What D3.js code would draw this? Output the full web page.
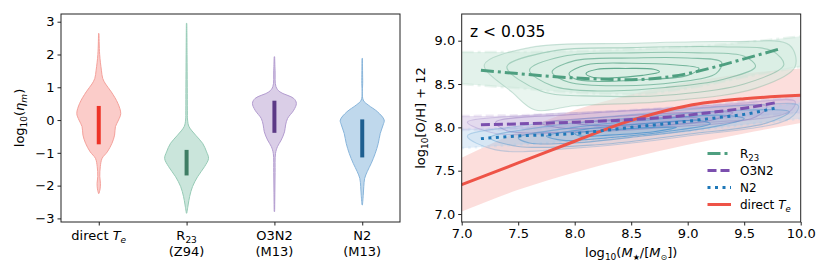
<!DOCTYPE html>
<html>
<head>
<meta charset="utf-8">
<script src="https://cdn.jsdelivr.net/npm/d3@7"></script>
<style>
  body { margin: 0; background: #fff; }
  text { font-family: "DejaVu Sans", sans-serif; fill: #000; }
</style>
</head>
<body>
<svg id="fig" width="830" height="277"></svg>
<script>
// ---------- left panel: violins of log10(eta_m) ----------
var violinNames = ["direct", "R23", "O3N2", "N2"];
// sampled profile of each violin: value and relative half width (1 = widest)
var teVals   = [2.64, 2.0, 1.52, 1.27, 1.1, 0.86, 0.51, 0.2, 0, -0.2, -0.46, -0.71, -0.97, -1.17, -1.42, -1.72, -1.93, -2.1, -2.24];
var teDens   = [0.01, 0.04, 0.12, 0.18, 0.31, 0.57, 0.87, 1, 0.9, 0.76, 0.72, 0.6, 0.39, 0.15, 0.07, 0.045, 0.076, 0.06, 0.01];
var r23Vals  = [2.95, 2.0, 1.0, 0.3, 0, -0.2, -0.46, -0.71, -0.97, -1.17, -1.42, -1.73, -2.03, -2.33, -2.59, -2.84];
var r23Dens  = [0.01, 0.02, 0.03, 0.035, 0.045, 0.11, 0.41, 0.73, 0.91, 1, 0.82, 0.5, 0.27, 0.14, 0.07, 0.01];
var o3n2Vals = [1.93, 1.5, 1.02, 0.86, 0.66, 0.51, 0.3, 0.05, -0.15, -0.36, -0.61, -0.81, -1.02, -1.6, -2.2, -2.79];
var o3n2Dens = [0.01, 0.03, 0.07, 0.25, 0.88, 1, 0.88, 0.6, 0.51, 0.46, 0.31, 0.14, 0.05, 0.03, 0.02, 0.01];
var n2Vals   = [1.88, 1.2, 0.61, 0.46, 0.25, 0, -0.15, -0.41, -0.71, -1.02, -1.32, -1.57, -1.78, -2.03, -2.3, -2.59];
var n2Dens   = [0.01, 0.02, 0.045, 0.27, 0.7, 1, 0.95, 0.82, 0.73, 0.59, 0.41, 0.23, 0.11, 0.07, 0.045, 0.01];
// inter-quartile bars [q25, q75]
var iqr = [[-0.74, 0.43], [-1.69, -0.91], [-0.39, 0.59], [-1.14, 0.02]];
var etaTicks = [-3, -2, -1, 0, 1, 2, 3];

// ---------- right panel: mass-metallicity ----------
var massTicks = [7.0, 7.5, 8.0, 8.5, 9.0, 9.5, 10.0];
var ohTicks = [7.0, 7.5, 8.0, 8.5, 9.0];

// fitted relations
var fitMass = [7.17, 7.5, 8.0, 8.5, 9.0, 9.25, 9.5, 9.8];
var fitR23  = [8.66, 8.62, 8.57, 8.55, 8.62, 8.7, 8.79, 8.9];
var fitO3N2 = [8.03, 8.04, 8.06, 8.09, 8.14, 8.18, 8.22, 8.29];
var fitN2   = [7.87, 7.9, 7.93, 8.0, 8.07, 8.11, 8.15, 8.23];
var teMass  = [7.0, 7.5, 8.0, 8.5, 9.0, 9.5, 10.0];
var teFit   = [7.34, 7.59, 7.84, 8.08, 8.25, 8.33, 8.37];

// percentile bands
var bandMass = [7.0, 7.5, 8.0, 8.5, 9.0, 9.5, 10.0];
var teLo   = [7.03, 7.28, 7.48, 7.65, 7.8, 7.93, 8.05];
var teHi   = [7.65, 7.95, 8.2, 8.38, 8.52, 8.62, 8.68];
var r23Lo  = [8.5, 8.45, 8.4, 8.38, 8.45, 8.58, 8.7];
var r23Hi  = [8.87, 8.87, 8.88, 8.9, 8.93, 8.98, 9.05];
var o3n2Lo = [7.97, 7.98, 8.0, 8.03, 8.07, 8.12, 8.17];
var o3n2Hi = [8.13, 8.14, 8.16, 8.2, 8.24, 8.3, 8.36];
var n2Lo   = [7.76, 7.8, 7.84, 7.9, 7.96, 8.03, 8.1];
var n2Hi   = [7.98, 8.0, 8.04, 8.09, 8.14, 8.21, 8.28];

// density contours (outer to inner), [mass, O/H]
var r23Contours = [
  [[7.2,8.72],[7.6,8.92],[8.5,8.97],[9.4,8.99],[9.9,8.95],[9.95,8.7],[9.6,8.45],[8.8,8.3],[8.0,8.25],[7.65,8.2],[7.45,8.4]],
  [[7.4,8.7],[7.8,8.88],[8.5,8.92],[9.3,8.93],[9.75,8.88],[9.85,8.72],[9.5,8.5],[8.9,8.38],[8.2,8.36],[7.7,8.42]],
  [[7.6,8.66],[7.9,8.82],[8.5,8.86],[9.1,8.86],[9.5,8.82],[9.6,8.7],[9.3,8.55],[8.8,8.46],[8.2,8.42],[7.8,8.48]],
  [[7.8,8.64],[8.0,8.77],[8.5,8.8],[9.0,8.8],[9.3,8.75],[9.25,8.62],[8.9,8.52],[8.4,8.48],[7.95,8.52]],
  [[7.95,8.62],[8.1,8.72],[8.5,8.74],[8.9,8.72],[9.1,8.68],[9.0,8.6],[8.6,8.55],[8.2,8.53],[8.0,8.56]],
  [[8.1,8.62],[8.2,8.67],[8.45,8.68],[8.7,8.67],[8.75,8.64],[8.6,8.6],[8.3,8.57],[8.15,8.58]]
];
var o3n2Contours = [
  [[7.05,8.06],[7.6,8.14],[8.5,8.2],[9.4,8.27],[9.95,8.3],[9.9,8.18],[9.0,8.04],[8.0,7.95],[7.3,7.93]],
  [[7.3,8.06],[8.0,8.15],[9.0,8.22],[9.7,8.24],[9.6,8.12],[8.8,8.0],[7.8,7.94],[7.4,7.96]],
  [[7.7,8.05],[8.3,8.12],[9.0,8.17],[9.4,8.17],[9.2,8.08],[8.5,8.01],[7.9,7.99]],
  [[8.0,8.05],[8.5,8.09],[9.0,8.12],[9.1,8.1],[8.7,8.05],[8.2,8.02]]
];
var n2Contours = [
  [[7.05,7.9],[7.6,8.03],[8.6,8.16],[9.6,8.26],[9.98,8.25],[9.9,8.1],[9.0,7.9],[8.0,7.76],[7.3,7.74]],
  [[7.25,7.88],[7.8,8.02],[8.6,8.12],[9.5,8.2],[9.9,8.18],[9.7,8.05],[9.0,7.92],[8.2,7.8],[7.5,7.78]],
  [[7.5,7.88],[8.0,8.0],[8.6,8.08],[9.3,8.14],[9.5,8.1],[9.2,8.0],[8.6,7.9],[8.0,7.82],[7.6,7.82]],
  [[7.75,7.9],[8.1,7.98],[8.6,8.04],[9.1,8.08],[9.2,8.04],[8.8,7.95],[8.3,7.88],[7.9,7.85]],
  [[8.0,7.93],[8.3,7.97],[8.7,8.0],[8.9,8.0],[8.7,7.95],[8.3,7.91],[8.05,7.9]]
];

var svg = d3.select("#fig");

var violinFill = ["#f7a29c", "#9fd0bd", "#bba5d3", "#8bb8dd"];
var violinEdge = ["#f4a19b", "#96cbb6", "#b39cd0", "#88b5db"];
var barColor = ["#ee3226", "#3f7d64", "#5c3a86", "#1e5f90"];

// ===== left panel =====
var L = {x0: 61, x1: 400, y0: 14, y1: 222};
var xV = d3.scaleLinear().domain([-0.43, 3.43]).range([L.x0, L.x1]);
var yV = d3.scaleLinear().domain([-3.11, 3.235]).range([L.y1, L.y0]);
var halfMax = 0.25;

var violinData = [
  d3.zip(teVals, teDens), d3.zip(r23Vals, r23Dens),
  d3.zip(o3n2Vals, o3n2Dens), d3.zip(n2Vals, n2Dens)
];

var gL = svg.append("g");
violinData.forEach(function (prof, i) {
  var area = d3.area()
    .y(function (d) { return yV(d[0]); })
    .x0(function (d) { return xV(i - halfMax * d[1]); })
    .x1(function (d) { return xV(i + halfMax * d[1]); })
    .curve(d3.curveCatmullRom);
  gL.append("path")
    .attr("d", area(prof))
    .attr("fill", violinFill[i])
    .attr("fill-opacity", 0.55)
    .attr("stroke", violinEdge[i])
    .attr("stroke-width", 1);
  gL.append("line")
    .attr("x1", xV(i)).attr("x2", xV(i))
    .attr("y1", yV(iqr[i][0])).attr("y2", yV(iqr[i][1]))
    .attr("stroke", barColor[i])
    .attr("stroke-width", 4);
});

// frame + ticks
gL.append("rect")
  .attr("x", L.x0).attr("y", L.y0)
  .attr("width", L.x1 - L.x0).attr("height", L.y1 - L.y0)
  .attr("fill", "none").attr("stroke", "#222").attr("stroke-width", 1);

var axL = gL.append("g").attr("transform", "translate(" + L.x0 + ",0)")
  .call(d3.axisLeft(yV).tickValues(etaTicks).tickSize(3.5).tickPadding(3)
    .tickFormat(function (d) { return d < 0 ? "\u2212" + Math.abs(d) : d; }));
var axB = gL.append("g").attr("transform", "translate(0," + L.y1 + ")")
  .call(d3.axisBottom(xV).tickValues([0, 1, 2, 3]).tickSize(3.5).tickFormat(""));
[axL, axB].forEach(function (a) {
  a.select(".domain").remove();
  a.selectAll("line").attr("stroke", "#222");
  a.selectAll("text").attr("font-size", 13).attr("font-family", "DejaVu Sans").attr("fill", "#000");
});

// category labels
var catY1 = 240, catY2 = 256;
function catLabel(i) {
  var t = gL.append("text").attr("text-anchor", "middle").attr("font-size", 13)
    .attr("x", xV(i)).attr("y", catY1);
  return t;
}
var t0 = catLabel(0);
t0.append("tspan").text("direct ");
t0.append("tspan").attr("font-style", "italic").text("T");
t0.append("tspan").attr("font-style", "italic").attr("font-size", 9).attr("dy", 2.5).text("e");
var t1 = catLabel(1);
t1.append("tspan").text("R");
t1.append("tspan").attr("font-size", 9).attr("dy", 2.5).text("23");
gL.append("text").attr("text-anchor", "middle").attr("font-size", 13).attr("x", xV(1)).attr("y", catY2).text("(Z94)");
catLabel(2).text("O3N2");
gL.append("text").attr("text-anchor", "middle").attr("font-size", 13).attr("x", xV(2)).attr("y", catY2).text("(M13)");
catLabel(3).text("N2");
gL.append("text").attr("text-anchor", "middle").attr("font-size", 13).attr("x", xV(3)).attr("y", catY2).text("(M13)");

// y label
var yl = gL.append("text").attr("font-size", 13).attr("text-anchor", "middle")
  .attr("transform", "translate(24," + ((L.y0 + L.y1) / 2) + ") rotate(-90)");
yl.append("tspan").text("log");
yl.append("tspan").attr("font-size", 9).attr("dy", 3).text("10");
yl.append("tspan").attr("dy", -3).text("(");
yl.append("tspan").attr("font-style", "italic").text("\u03b7");
yl.append("tspan").attr("font-style", "italic").attr("font-size", 9).attr("dy", 3).text("m");
yl.append("tspan").attr("dy", -3).text(")");

// ===== right panel =====
var R = {x0: 461.7, x1: 800.7, y0: 14, y1: 222};
var xM = d3.scaleLinear().domain([7, 10]).range([R.x0, R.x1]);
var yO = d3.scaleLinear().domain([6.908, 9.308]).range([R.y1, R.y0]);

svg.append("clipPath").attr("id", "clipR").append("rect")
  .attr("x", R.x0).attr("y", R.y0).attr("width", R.x1 - R.x0).attr("height", R.y1 - R.y0);
var gR = svg.append("g").attr("clip-path", "url(#clipR)");

function band(lo, hi, fill, op, edge, dash) {
  var rows = bandMass.map(function (m, k) { return [m, lo[k], hi[k]]; });
  var a = d3.area().x(function (d) { return xM(d[0]); })
    .y0(function (d) { return yO(d[1]); }).y1(function (d) { return yO(d[2]); })
    .curve(d3.curveMonotoneX);
  gR.append("path").attr("d", a(rows)).attr("fill", fill).attr("fill-opacity", op);
  if (edge) {
    [1, 2].forEach(function (j) {
      var l = d3.line().x(function (d) { return xM(d[0]); }).y(function (d) { return yO(d[j]); })
        .curve(d3.curveMonotoneX);
      gR.append("path").attr("d", l(rows)).attr("fill", "none").attr("stroke", edge)
        .attr("stroke-width", 2.5).attr("stroke-opacity", 0.3).attr("stroke-dasharray", dash);
    });
  }
}

var cGreen = "#4e9f80", cPurple = "#7b4fae", cBlue = "#1f78b8", cRed = "#ee5347";

band(teLo, teHi, "#f9b1ab", 0.42, null);
band(r23Lo, r23Hi, "#c2e2d3", 0.45, "#b8dccb", "12,4,3,4");

var loopLine = d3.line().x(function (d) { return xM(d[0]); }).y(function (d) { return yO(d[1]); })
  .curve(d3.curveCatmullRomClosed);

// faint fill of the outer R23 contour
gR.append("path").attr("d", loopLine(r23Contours[0])).attr("fill", "#d3ebe0").attr("fill-opacity", 0.5);

band(o3n2Lo, o3n2Hi, "#cbb8e0", 0.42, "#c9b6df", "8,4");
band(n2Lo, n2Hi, "#b7d5ee", 0.42, "#b7d5ee", "2.5,4");

function contours(set, color, fillCol) {
  set.forEach(function (c, k) {
    var f = (k + 1) / set.length;
    gR.append("path").attr("d", loopLine(c))
      .attr("fill", fillCol || "none").attr("fill-opacity", fillCol ? 0.07 : 0)
      .attr("stroke", color).attr("stroke-width", 1.1)
      .attr("stroke-opacity", 0.15 + 0.7 * f);
  });
}
contours(r23Contours, cGreen);
contours(o3n2Contours, "#9b80c4", "#9b80c4");
contours(n2Contours, "#4d94cc", "#4d94cc");

function fitLine(xs, ys, color, dash) {
  var l = d3.line().x(function (d) { return xM(d[0]); }).y(function (d) { return yO(d[1]); })
    .curve(d3.curveMonotoneX);
  gR.append("path").attr("d", l(d3.zip(xs, ys))).attr("fill", "none")
    .attr("stroke", color).attr("stroke-width", 3)
    .attr("stroke-dasharray", dash || null);
}
fitLine(teMass, teFit, cRed);
fitLine(fitMass, fitR23, cGreen, "13,4,3,4");
fitLine(fitMass, fitO3N2, cPurple, "9,4");
fitLine(fitMass, fitN2, cBlue, "3,4.5");

// frame + axes
svg.append("rect")
  .attr("x", R.x0).attr("y", R.y0)
  .attr("width", R.x1 - R.x0).attr("height", R.y1 - R.y0)
  .attr("fill", "none").attr("stroke", "#222").attr("stroke-width", 1);
var axRL = svg.append("g").attr("transform", "translate(" + R.x0 + ",0)")
  .call(d3.axisLeft(yO).tickValues(ohTicks).tickSize(3.5).tickPadding(3).tickFormat(d3.format(".1f")));
var axRB = svg.append("g").attr("transform", "translate(0," + R.y1 + ")")
  .call(d3.axisBottom(xM).tickValues(massTicks).tickSize(3.5).tickPadding(3).tickFormat(d3.format(".1f")));
[axRL, axRB].forEach(function (a) {
  a.select(".domain").remove();
  a.selectAll("line").attr("stroke", "#222");
  a.selectAll("text").attr("font-size", 13).attr("font-family", "DejaVu Sans").attr("fill", "#000");
});

svg.append("text").attr("x", 470).attr("y", 37).attr("font-size", 15.5).text("z < 0.035");

// labels
var xl = svg.append("text").attr("font-size", 13).attr("text-anchor", "middle")
  .attr("x", (R.x0 + R.x1) / 2).attr("y", 257);
xl.append("tspan").text("log");
xl.append("tspan").attr("font-size", 9).attr("dy", 3).text("10");
xl.append("tspan").attr("dy", -3).text("(");
xl.append("tspan").attr("font-style", "italic").text("M");
xl.append("tspan").attr("font-size", 8).attr("dy", 3).text("\u2605");
xl.append("tspan").attr("dy", -3).text("/[");
xl.append("tspan").attr("font-style", "italic").text("M");
xl.append("tspan").attr("font-size", 8).attr("dy", 3).text("\u2299");
xl.append("tspan").attr("dy", -3).text("])");

var yr = svg.append("text").attr("font-size", 13).attr("text-anchor", "middle")
  .attr("transform", "translate(425," + ((R.y0 + R.y1) / 2) + ") rotate(-90)");
yr.append("tspan").text("log");
yr.append("tspan").attr("font-size", 9).attr("dy", 3).text("10");
yr.append("tspan").attr("dy", -3).text("[O/H] + 12");

// legend
var legend = [
  {name: "R", sub: "23", color: cGreen, dash: "13,4,3,4"},
  {name: "O3N2", color: cPurple, dash: "9,4"},
  {name: "N2", color: cBlue, dash: "3,4.5"},
  {name: "direct ", it: "T", sub: "e", color: cRed, dash: null}
];
legend.forEach(function (d, k) {
  var y = 153.5 + k * 17;
  svg.append("line").attr("x1", 707.5).attr("x2", 731).attr("y1", y).attr("y2", y)
    .attr("stroke", d.color).attr("stroke-width", 3).attr("stroke-dasharray", d.dash);
  var t = svg.append("text").attr("x", 740).attr("y", y + 4.5).attr("font-size", 12);
  t.append("tspan").text(d.name);
  if (d.it) t.append("tspan").attr("font-style", "italic").text(d.it);
  if (d.sub) t.append("tspan").attr("font-size", 8.5).attr("dy", 3).attr("font-style", d.it ? "italic" : null).text(d.sub);
});
</script>
</body>
</html>
